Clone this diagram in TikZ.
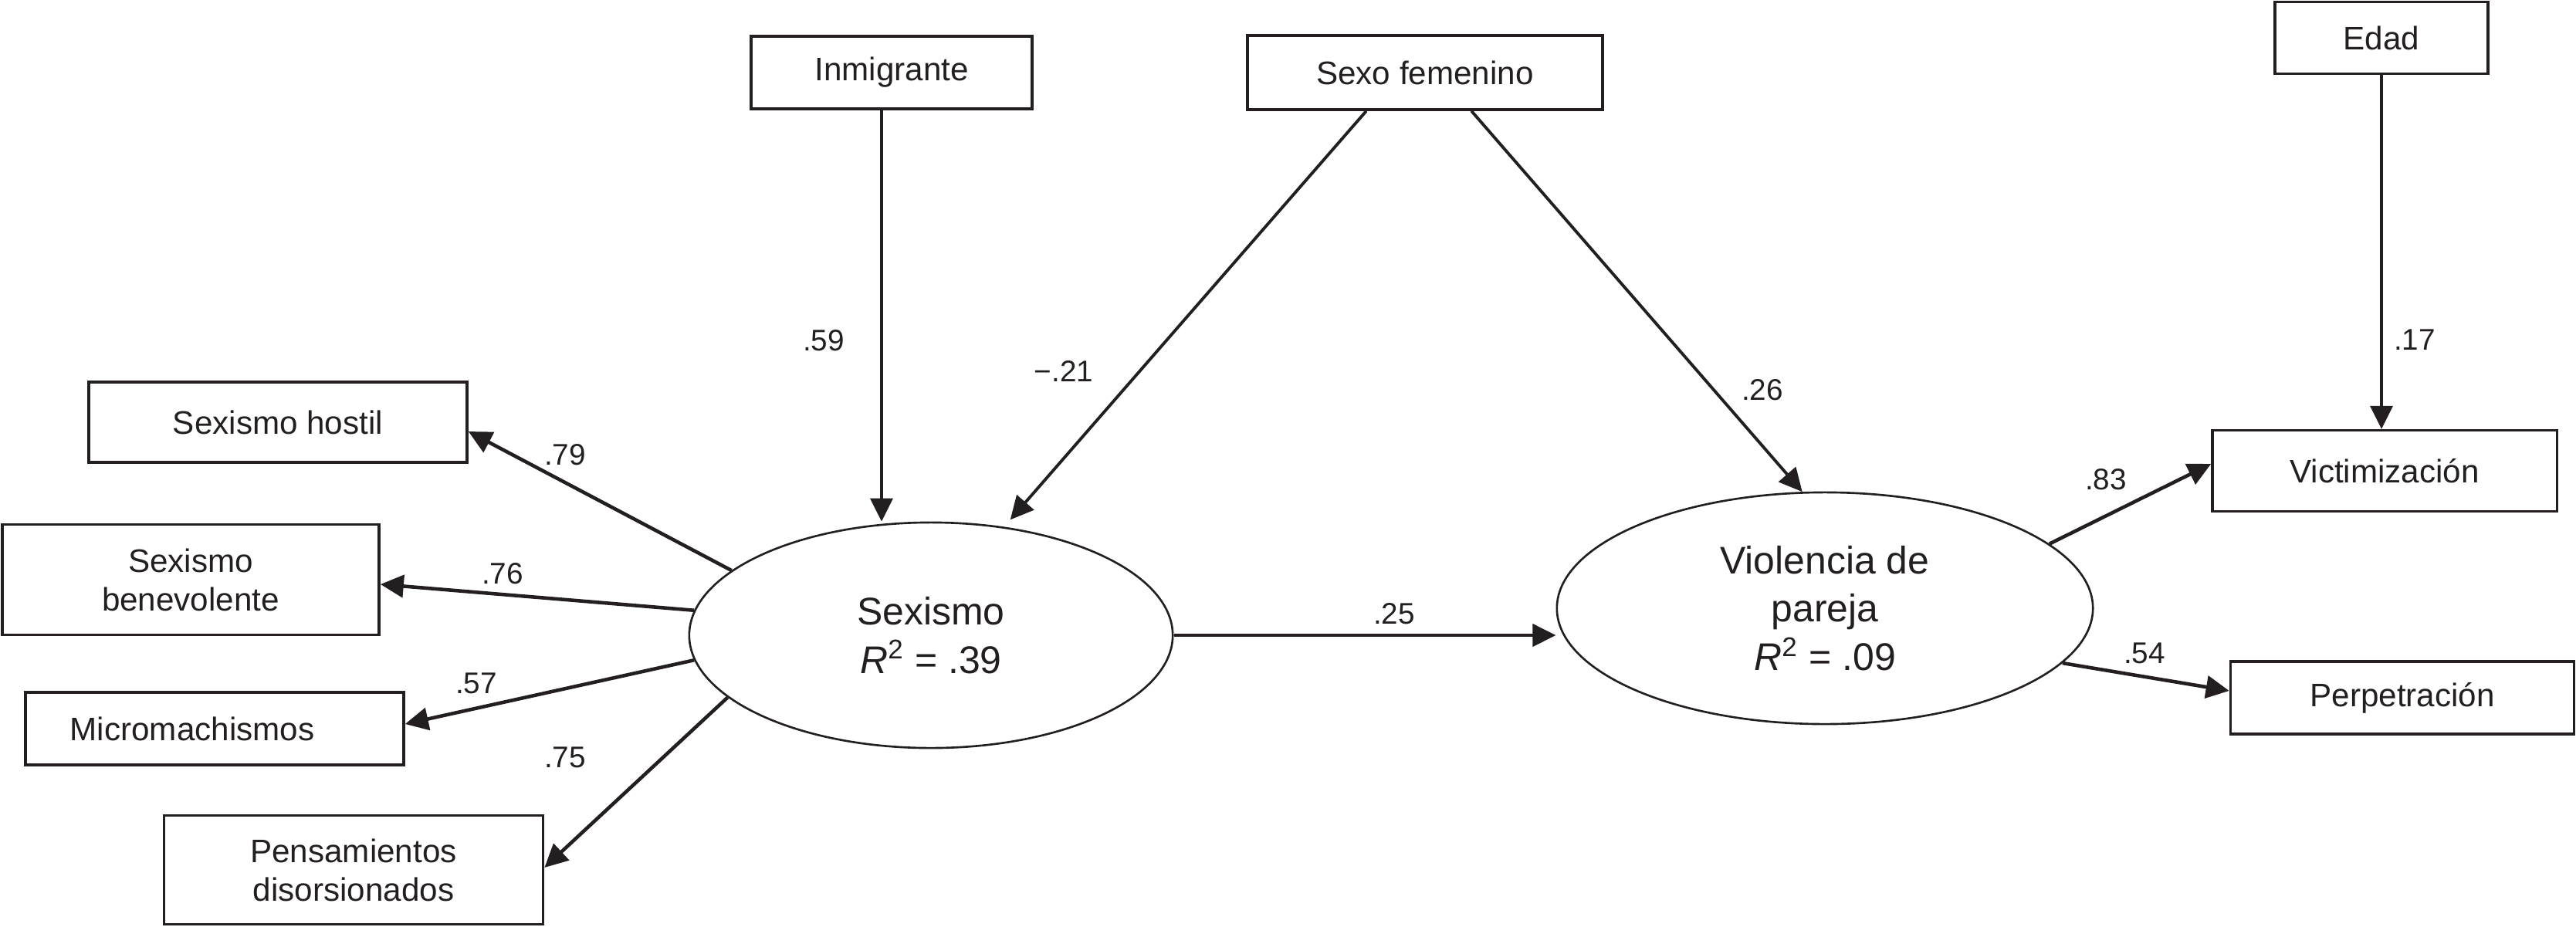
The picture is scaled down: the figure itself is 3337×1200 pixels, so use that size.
\documentclass[tikz,border=0pt]{standalone}
\usepackage{fontspec}
\setmainfont{Liberation Sans}
\usetikzlibrary{arrows.meta,shapes.geometric,calc}
\definecolor{ink}{HTML}{231F20}
\begin{document}
\begin{tikzpicture}[x=0.01cm, y=-0.01cm,
  box/.style={draw=ink, line width=0.95pt, inner sep=0pt, align=center, text=ink,
    font=\fontsize{12}{14.2}\selectfont},
  lat/.style={draw=ink, ellipse, line width=0.75pt, inner sep=0pt, align=center, text=ink,
    font=\fontsize{14.2}{17.8}\selectfont},
  arr/.style={draw=ink, line width=1.1pt, -{Triangle[length=0.3cm,width=0.29cm]}},
  arrT/.style={arr, line width=1.3pt},
  lab/.style={inner sep=0pt, text=ink, font=\fontsize{11}{13}\selectfont}]
\useasboundingbox (0,0) rectangle (3337,1200);

% observed boxes
\node[box, minimum width=3.64cm, minimum height=0.94cm] (inm) at (1155,94) {Inmigrante};
\node[box, minimum width=4.60cm, minimum height=0.96cm] (sexo) at (1846,94) {Sexo femenino};
\node[box, minimum width=2.76cm, minimum height=0.93cm] (edad) at (3085,49) {Edad};
\node[box, minimum width=4.90cm, minimum height=1.04cm] (hos) at (360,547) {Sexismo hostil};
\node[box, minimum width=4.88cm, minimum height=1.43cm] (ben) at (247,751) {Sexismo\\benevolente};
\node[box, minimum width=4.90cm, minimum height=0.94cm] (mic) at (278,944) {\hspace*{-0.58cm}Micromachismos};
\node[box, minimum width=4.91cm, minimum height=1.41cm] (pen) at (458,1127) {Pensamientos\\disorsionados};
\node[box, minimum width=4.46cm, minimum height=1.05cm] (vic) at (3089,610) {Victimización};
\node[box, minimum width=4.45cm, minimum height=0.94cm] (per) at (3112,904) {Perpetración};

% latent variables
\node[lat, minimum width=6.26cm, minimum height=2.92cm] (sex) at (1206,823)
  {Sexismo\\\textit{R}\textsuperscript{2} = .39};
\node[lat, minimum width=6.94cm, minimum height=3.00cm] (vio) at (2364,788)
  {Violencia de\\pareja\\\textit{R}\textsuperscript{2} = .09};

% helper points
\coordinate (inmB) at ([xshift=-0.13cm]inm.south);

% structural paths
\draw[arr] (inmB) -- (inmB |- sex.north);
\draw[arr, shorten >=0.12cm] ([xshift=-0.76cm]sexo.south) -- (sex.56);
\draw[arr] ([xshift=0.60cm]sexo.south) -- (vio.101);
\draw[arr] (sex.east) -- (sex.east -| vio.west);
\draw[arr] (edad.south) -- (edad.south |- vic.north);

% measurement paths
\draw[arrT] (sex.162) -- ([yshift=-0.12cm]hos.east);
\draw[arrT] (sex.174) -- ([yshift=-0.06cm]ben.east);
\draw[arrT] (sex.186) -- ([yshift=0.06cm]mic.east);
\draw[arrT] (sex.197) -- ([yshift=0.03cm]pen.east);
\draw[arrT] (vio.16) -- ([yshift=0.09cm]vic.west);
\draw[arrT] (vio.-13) -- ([yshift=0.09cm]per.west);

% coefficients
\node[lab] (l79) at (732,589) {.79};
\node[lab] (l76) at (651,743) {.76};
\node[lab] (l57) at (617,885) {.57};
\node[lab] (l75) at (732,981) {.75};
\node[lab] (l59) at (1067,441) {.59};
\node[lab] (l21) at (1378,481) {−.21};
\node[lab] (l26) at (2283,505) {.26};
\node[lab] (l25) at (1806,795) {.25};
\node[lab] (l17) at (3128,440) {.17};
\node[lab] (l83) at (2728,621) {.83};
\node[lab] (l54) at (2778,846) {.54};
\end{tikzpicture}
\end{document}
